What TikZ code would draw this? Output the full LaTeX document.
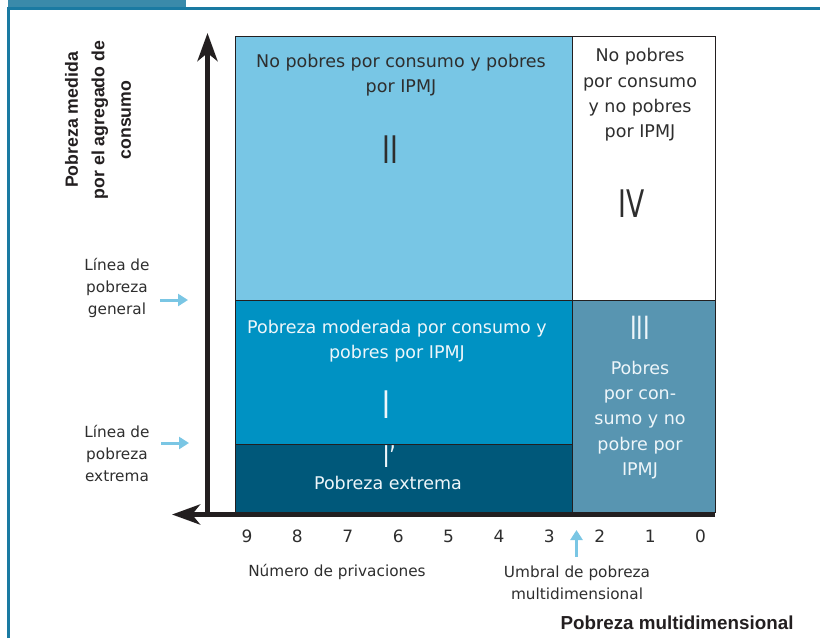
\documentclass[tikz,border=0pt]{standalone}
\usepackage{fontspec}
\setmainfont{DejaVu Sans}
\newfontfamily\labfont{Liberation Sans}
\usetikzlibrary{arrows.meta}
\definecolor{cII}{HTML}{78C6E5}
\definecolor{cI}{HTML}{0092C3}
\definecolor{cIp}{HTML}{00587A}
\definecolor{cIII}{HTML}{5895B1}
\definecolor{txt}{HTML}{2E2E2E}
\definecolor{axisc}{HTML}{231F20}
\definecolor{lblue}{HTML}{7AC6E4}
\definecolor{frameline}{HTML}{1A7AA2}
\definecolor{frametab}{HTML}{3A8AAA}
\definecolor{lightwhite}{HTML}{EEF6FA}
\tikzset{
  box/.style={draw=axisc, line width=0.8pt, anchor=north west, inner sep=0pt},
  boxtxt/.style={font=\fontsize{17.5}{25.3}\selectfont, align=center, text=txt, inner sep=0pt},
  numeral/.style={font=\fontsize{38}{38}\selectfont\addfontfeatures{FakeStretch=0.7}, inner sep=0pt},
  axisline/.style={line width=5pt, draw=axisc},
  tick/.style={font=\fontsize{17}{17}\selectfont, text=txt, inner sep=0pt},
  sidelab/.style={font=\fontsize{15.3}{22}\selectfont, align=center, text=txt, inner sep=0pt},
  bluearrow/.style={draw=lblue, line width=3pt, -{Triangle[length=10pt,width=12pt]}},
}
\begin{document}
\begin{tikzpicture}[x=1pt,y=-1pt]
\useasboundingbox (0,0) rectangle (820,638);
% frame
\fill[frametab] (8,0) rectangle (186,7);
\draw[frameline, line width=3pt] (8.5,638) -- (8.5,8) -- (820,8);
% boxes
\node[box, fill=cII, minimum width=337pt, minimum height=264pt] (bII) at (235,36) {};
\node[box, fill=white, minimum width=143pt, minimum height=264pt] (bIV) at (572,36) {};
\node[box, fill=cI, minimum width=337pt, minimum height=144pt] (bI) at (235,300) {};
\node[box, fill=cIp, minimum width=337pt, minimum height=68pt] (bIp) at (235,444) {};
\node[box, fill=cIII, minimum width=143pt, minimum height=212pt] (bIII) at (572,300) {};
% box texts
\node[boxtxt] (tII) at (401,75.5) {No pobres por consumo y pobres\\por IPMJ};
\node[numeral, text=txt] (nII) at (390,150) {II};
\node[boxtxt] (tIV) at (640,95) {No pobres\\por consumo\\y no pobres\\por IPMJ};
\node[numeral, text=txt] (nIV) at (632,204) {IV};
\node[boxtxt, text=lightwhite] (tI) at (397,341.5) {Pobreza moderada por consumo y\\pobres por IPMJ};
\node[numeral, text=lightwhite] (nI) at (386,405) {I};
\node[numeral, text=lightwhite, font=\fontsize{30}{30}\selectfont\addfontfeatures{FakeStretch=0.7}] (nIp) at (390,457) {I’};
\node[boxtxt, text=lightwhite] (tIp) at (388,483) {Pobreza extrema};
\node[numeral, text=lightwhite, font=\fontsize{32}{32}\selectfont\addfontfeatures{FakeStretch=0.7}] (nIII) at (640,328) {III};
\node[boxtxt, text=lightwhite] (tIII) at (640,420) {Pobres\\por con-\\sumo y no\\pobre por\\IPMJ};
% axes
\coordinate (xend) at (715,514.5);
\coordinate (xtip) at (172,514.5);
\coordinate (ybot) at (207.5,517);
\coordinate (ytip) at (207.5,33);
\draw[axisline, -{Stealth[length=28pt,width=20pt,inset=8pt]}] (xend) -- (xtip);
\draw[axisline, -{Stealth[length=28pt,width=20pt,inset=8pt]}] (ybot) -- (ytip);
% ticks
\foreach \n [count=\i from 0] in {9,8,7,6,5,4,3,2,1,0}{
  \node[tick] (tk\n) at ({247+50.4*\i},536) {\n};
}
% axis labels
\node[font=\labfont\bfseries\fontsize{17.7}{26.5}\selectfont, align=center, rotate=90, text=axisc, inner sep=0pt] (ylab) at (98,120) {Pobreza medida\\por el agregado de\\consumo};
\node[font=\labfont\bfseries\fontsize{18.8}{18.8}\selectfont, text=axisc, inner sep=0pt] (xlab) at (677,623) {Pobreza multidimensional};
\node[sidelab] (npriv) at (337,572) {Número de privaciones};
\node[sidelab] (umbral) at (577,582.5) {Umbral de pobreza\\multidimensional};
\coordinate (uarrtip) at (576.5,530);
\coordinate (uarrbase) at (576.5,557);
\draw[bluearrow] (uarrbase) -- (uarrtip);
% side labels
\node[sidelab] (lgen) at (117,287.5) {Línea de\\pobreza\\general};
\node[sidelab] (lext) at (117,453) {Línea de\\pobreza\\extrema};
\coordinate (agen) at (188,300);
\coordinate (aext) at (189,443);
\coordinate (sgen) at (160,300);
\coordinate (sext) at (161,443);
\draw[bluearrow] (sgen) -- (agen);
\draw[bluearrow] (sext) -- (aext);
\end{tikzpicture}
\end{document}
